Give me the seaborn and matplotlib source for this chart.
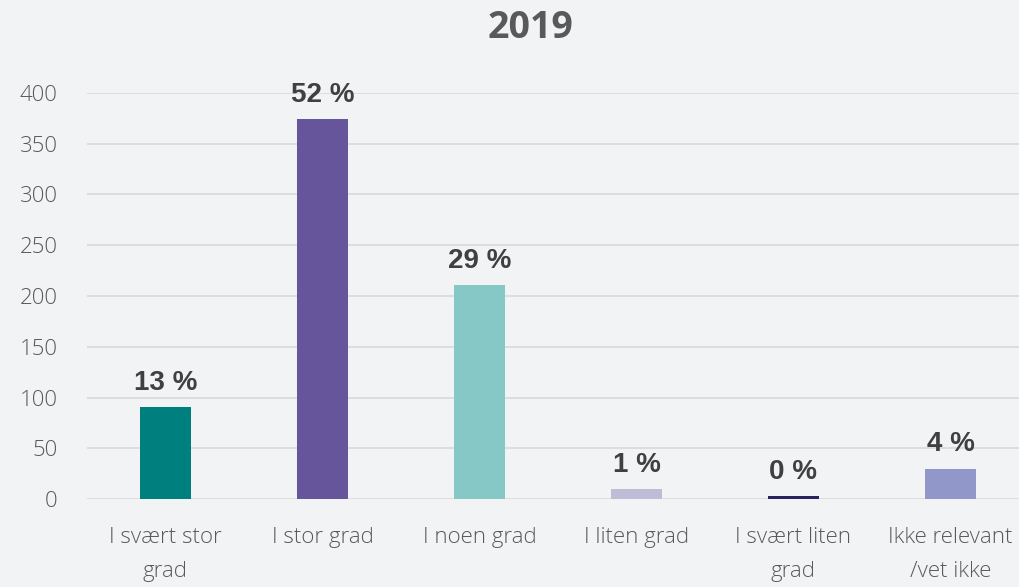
import numpy as np
import pandas as pd
import matplotlib.pyplot as plt
import seaborn as sns

# data
kategorier = ["I svært stor\ngrad", "I stor grad", "I noen grad", "I liten grad",
              "I svært liten\ngrad", "Ikke relevant\n/vet ikke"]
antall = [91, 374, 211, 10, 3, 30]
prosent = ["13 %", "52 %", "29 %", "1 %", "0 %", "4 %"]
farger = ["#007F7F", "#67559B", "#86C8C6", "#C0BCD6", "#2B2160", "#9197C9"]
yticks = [0, 50, 100, 150, 200, 250, 300, 350, 400]

df = pd.DataFrame({"kategori": kategorier, "antall": antall})

sns.set_theme(style="white")
plt.rcParams['font.family'] = ['Open Sans', 'DejaVu Sans']
bg = "#F2F3F5"

fig = plt.figure(figsize=(10.2, 5.87), dpi=100, facecolor=bg)
ax = fig.add_axes([87/1020, 88/587, 942/1020, 406/587])
ax.set_facecolor(bg)

sns.barplot(data=df, x="kategori", y="antall", hue="kategori", palette=farger,
            width=0.32, legend=False, ax=ax, saturation=1, linewidth=0)

for i, (v, p) in enumerate(zip(antall, prosent)):
    ax.annotate(p, (i, v), xytext=(0, 8), textcoords="offset points",
                ha="center", va="bottom", fontsize=20, fontweight="bold",
                color="#404040", family="Liberation Sans", annotation_clip=False)

ax.set_ylim(0, 400)
ax.set_xlim(-0.5, 5.5)
ax.set_yticks(yticks)
ax.yaxis.grid(True, color="#D9D9D9", linewidth=1.2)
ax.set_axisbelow(True)
for s in ax.spines.values():
    s.set_visible(False)
ax.set_xlabel("")
ax.set_ylabel("")
ax.tick_params(axis="y", length=0, pad=21, labelsize=16, labelcolor="#595959")
ax.tick_params(axis="x", length=0, pad=20, labelsize=16, labelcolor="#595959")
for lbl in ax.get_xticklabels():
    lbl.set_linespacing(1.8)
    lbl.set_fontweight("light")
for lbl in ax.get_yticklabels():
    lbl.set_fontweight("light")

fig.text(530/1020, 1 - 28/587, "2019", ha="center", va="center", fontsize=27,
         fontweight="bold", color="#595959")

fig.savefig("out.png", dpi=100, facecolor=bg)
